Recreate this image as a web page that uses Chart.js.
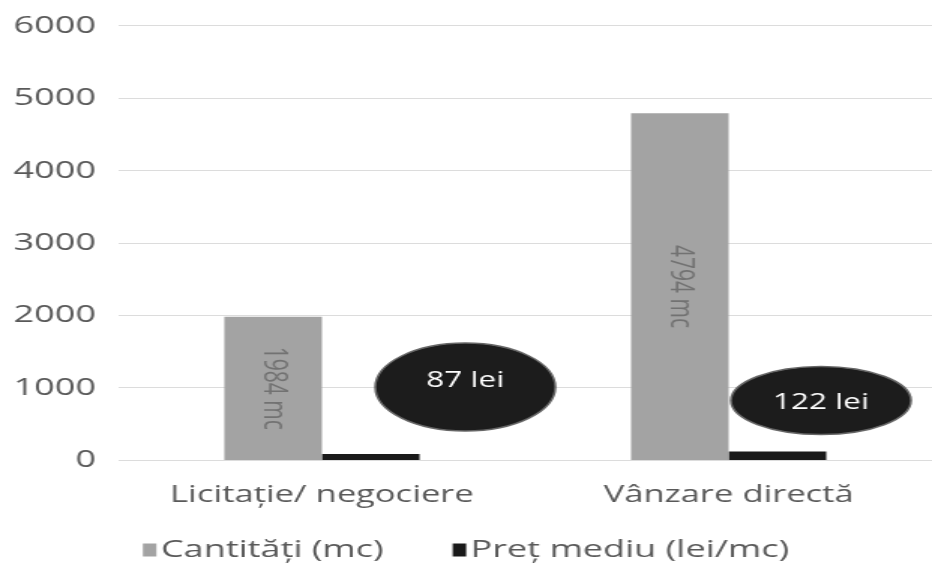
<!DOCTYPE html>
<html>
<head>
<meta charset="utf-8">
<script src="https://cdn.jsdelivr.net/npm/chart.js@4"></script>
<style>
html,body{margin:0;padding:0;background:#fff;overflow:hidden;}
#wrap{width:932px;height:574px;position:relative;overflow:hidden;}
#c{display:block;}
</style>
</head>
<body>
<div id="wrap"><canvas id="c" width="621" height="574" style="width:932px;height:574px;"></canvas></div>
<script>
const categories = ["Licitație/ negociere", "Vânzare directă"];
const quantities = [1984, 4794];
const prices = [87, 122];
const seriesNames = ["Cantități (mc)", "Preț mediu (lei/mc)"];
const quantityLabels = ["1984 mc", "4794 mc"];
const priceLabels = ["87 lei", "122 lei"];
const yTicks = [0, 1000, 2000, 3000, 4000, 5000, 6000];

const FONT = "'Open Sans', 'DejaVu Sans', sans-serif";

const labelPlugin = {
  id: 'customLabels',
  afterDatasetsDraw(chart) {
    const ctx = chart.ctx;
    const m0 = chart.getDatasetMeta(0);
    const m1 = chart.getDatasetMeta(1);
    m0.data.forEach((bar, i) => {
      const cx = bar.x;
      const cy = (bar.y + bar.base) / 2;
      ctx.save();
      ctx.translate(cx, cy);
      ctx.rotate(Math.PI / 2);
      ctx.fillStyle = '#727272';
      ctx.font = "21px " + FONT;
      ctx.textAlign = 'center';
      ctx.textBaseline = 'middle';
      ctx.fillText(quantityLabels[i], 0, 0);
      ctx.restore();
    });
    const offs = [{dx: 63, dy: -67, rx: 60, ry: 44, ty: -6}, {dx: 29, dy: -51, rx: 60, ry: 34, ty: 2}];
    m1.data.forEach((bar, i) => {
      const o = offs[i];
      const cx = bar.x + o.dx;
      const cy = bar.y + o.dy;
      ctx.save();
      ctx.beginPath();
      ctx.ellipse(cx, cy, o.rx, o.ry, 0, 0, Math.PI * 2);
      ctx.fillStyle = '#1c1c1c';
      ctx.fill();
      ctx.lineWidth = 1.5;
      ctx.strokeStyle = '#666';
      ctx.stroke();
      ctx.fillStyle = '#ffffff';
      ctx.font = "21px " + FONT;
      ctx.textAlign = 'center';
      ctx.textBaseline = 'middle';
      ctx.fillText(priceLabels[i], cx, cy + o.ty);
      ctx.restore();
    });
  }
};

const legendPlugin = {
  id: 'customLegend',
  afterDraw(chart) {
    const ctx = chart.ctx;
    const ds = chart.data.datasets;
    const boxW = 9, boxH = 13, gap = 3, itemGap = 46;
    ctx.save();
    ctx.font = "24px " + FONT;
    const widths = ds.map(d => boxW + gap + ctx.measureText(d.label).width);
    const total = widths.reduce((a, b) => a + b, 0) + itemGap * (ds.length - 1);
    let x = (chart.width - total) / 2;
    const y = chart.height - 24;
    ds.forEach((d, i) => {
      ctx.fillStyle = d.backgroundColor;
      ctx.fillRect(x, y - boxH / 2, boxW, boxH);
      ctx.fillStyle = '#595959';
      ctx.textAlign = 'left';
      ctx.textBaseline = 'middle';
      ctx.fillText(d.label, x + boxW + gap, y);
      x += widths[i] + itemGap;
    });
    ctx.restore();
  }
};

new Chart(document.getElementById('c'), {
  type: 'bar',
  data: {
    labels: categories,
    datasets: [
      {label: seriesNames[0], data: quantities, backgroundColor: '#a3a3a3', borderWidth: 0},
      {label: seriesNames[1], data: prices, backgroundColor: '#1a1a1a', borderWidth: 0}
    ]
  },
  options: {
    responsive: false,
    animation: false,
    devicePixelRatio: 1,
    layout: {padding: {top: 0, right: 0, left: 0, bottom: 52}},
    categoryPercentage: 0.48,
    barPercentage: 1.0,
    plugins: {
      legend: {display: false},
      tooltip: {enabled: false},
      title: {display: false}
    },
    scales: {
      x: {
        grid: {display: false},
        border: {display: false},
        ticks: {font: {family: FONT, size: 23}, color: '#595959', padding: 13}
      },
      y: {
        min: 0, max: 6000,
        afterFit(scale) { scale.width = 79; },
        afterBuildTicks(scale) { scale.ticks = yTicks.map(v => ({value: v})); },
        grid: {color: '#dcdcdc', drawTicks: false, lineWidth: 1},
        border: {display: false},
        ticks: {
          font: {family: FONT, size: 24, lineHeight: 0.9}, color: '#595959', padding: 15,
          callback: (v) => String(v)
        }
      }
    }
  },
  plugins: [labelPlugin, legendPlugin]
});
</script>
</body>
</html>
